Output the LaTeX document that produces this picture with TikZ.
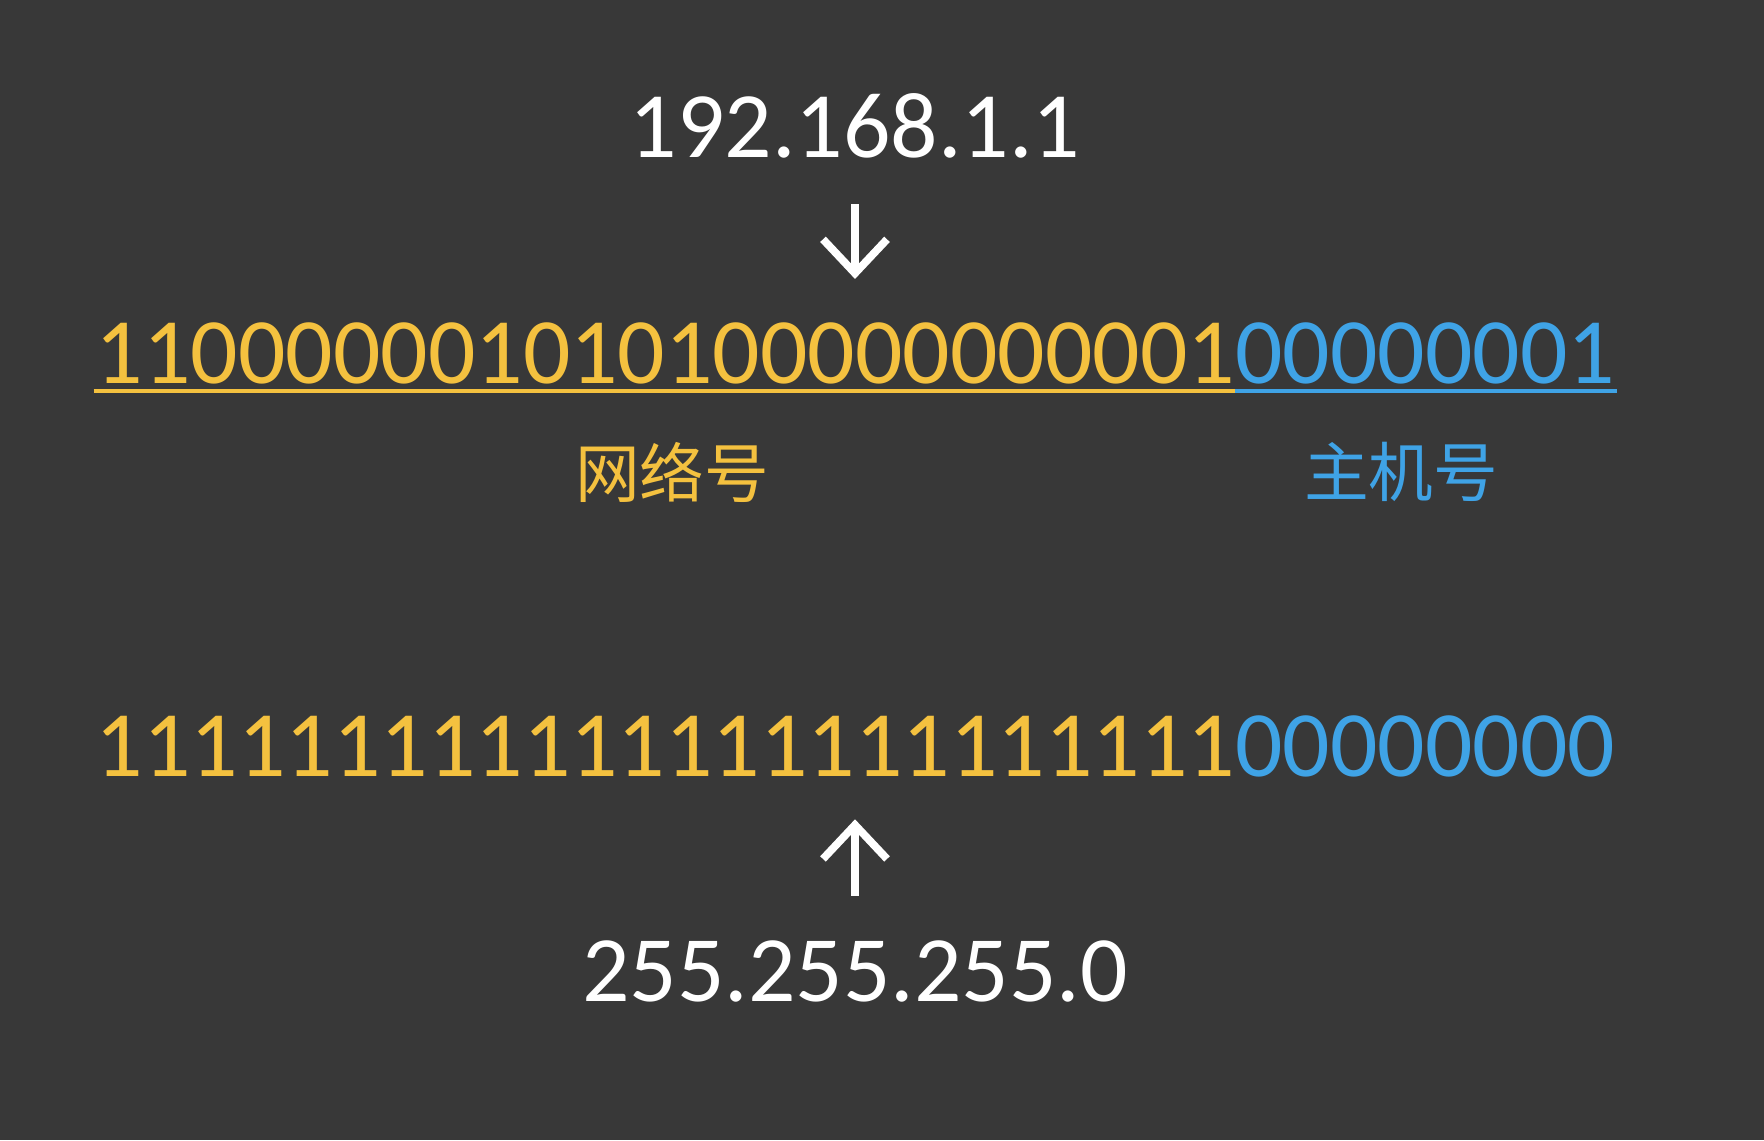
\documentclass[tikz,border=0pt]{standalone}
\usepackage{fontspec}
\setmainfont{Carlito}
\newfontfamily\cjk{Noto Sans CJK SC}
\usetikzlibrary{arrows.meta}
\definecolor{board}{HTML}{383838}
\definecolor{netcol}{HTML}{F4C13F}
\definecolor{hostcol}{HTML}{3FA3E6}
\begin{document}
\begin{tikzpicture}[x=0.25mm, y=-0.25mm,
    bits/.style={font=\fontsize{66.6}{70}\selectfont, inner sep=0pt, anchor=base},
    tag/.style={font=\cjk\fontsize{46}{50}\selectfont, inner sep=0pt},
    conv/.style={white, line width=5.5pt, -{Straight Barb[length=8.5mm, width=16mm]}},
    uline/.style={line width=2.8pt}]
    \fill[board] (0,0) rectangle (1764,1140);
    \node[bits, white] (ip) at (855,157) {192.168.1.1};
    \node[bits, netcol, anchor=base east] (net1) at (1235,383) {110000001010100000000001};
    \node[bits, hostcol, anchor=base west] (host1) at (1235,383) {00000001};
    \draw[uline, netcol] ([xshift=-0.5mm, yshift=-2.1mm]net1.base west) -- ([yshift=-2.1mm]net1.base east);
    \draw[uline, hostcol] ([yshift=-2.1mm]host1.base west) -- ([xshift=0.5mm, yshift=-2.1mm]host1.base east);
    \node[tag, netcol] (netlbl) at (672,472) {网络号};
    \node[tag, hostcol] (hostlbl) at (1401,472) {主机号};
    \node[bits, netcol, anchor=base east] (net2) at (1235,776) {111111111111111111111111};
    \node[bits, hostcol, anchor=base west] (host2) at (1235,776) {00000000};
    \node[bits, white] (mask) at (855,1001) {255.255.255.0};
    \draw[conv, shorten <=11.5mm, shorten >=10.75mm] (ip.south) -- (ip.south |- net1.north);
    \draw[conv, shorten <=11mm, shorten >=10.75mm] (mask.north) -- (mask.north |- net2.south);
\end{tikzpicture}
\end{document}
